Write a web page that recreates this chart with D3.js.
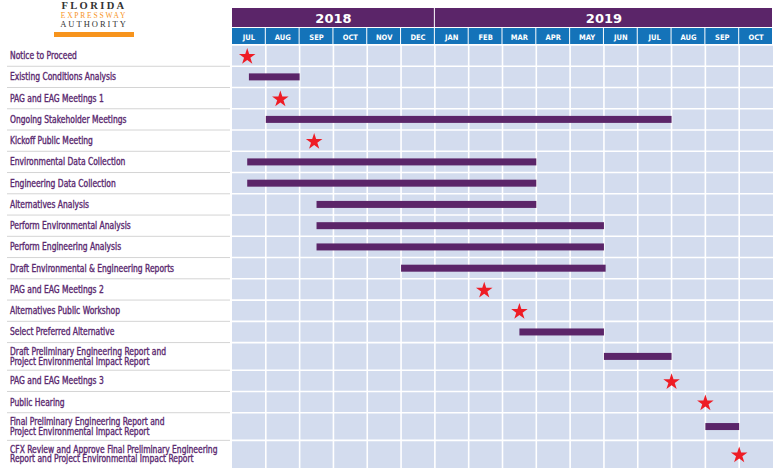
<!DOCTYPE html>
<meta charset="utf-8">
<script src="https://d3js.org/d3.v7.min.js"></script>
<style>
  body { margin: 0; background: #fff; }
  svg text { font-family: "DejaVu Sans Condensed", "DejaVu Sans", sans-serif; }
</style>
<div id="my_dataviz"></div>
<script>
// months shown on the timeline (Jul 2018 - Oct 2019)
var months = ["JUL","AUG","SEP","OCT","NOV","DEC","JAN","FEB","MAR","APR","MAY","JUN","JUL","AUG","SEP","OCT"];
var years = ["2018", "2019"];
var yearMonths = [6, 10];

// tasks, top to bottom ("\n" = second line of label)
var tasks = [
  "Notice to Proceed",
  "Existing Conditions Analysis",
  "PAG and EAG Meetings 1",
  "Ongoing Stakeholder Meetings",
  "Kickoff Public Meeting",
  "Environmental Data Collection",
  "Engineering Data Collection",
  "Alternatives Analysis",
  "Perform Environmental Analysis",
  "Perform Engineering Analysis",
  "Draft Environmental & Engineering Reports",
  "PAG and EAG Meetings 2",
  "Alternatives Public Workshop",
  "Select Preferred Alternative",
  "Draft Preliminary Engineering Report and\nProject Environmental Impact Report",
  "PAG and EAG Meetings 3",
  "Public Hearing",
  "Final Preliminary Engineering Report and\nProject Environmental Impact Report",
  "CFX Review and Approve Final Preliminary Engineering\nReport and Project Environmental Impact Report"
];

// bar start / end in months from 1 Jul 2018 (null = milestone row)
var barStart = [null, 0.5, null, 1, null, 0.45, 0.45, 2.5, 2.5, 2.5, 5, null, null, 8.5, 11, null, null, 14, null];
var barEnd   = [null, 2.0, null, 13, null, 9, 9, 9, 11, 11, 11.05, null, null, 11, 13, null, null, 15, null];

// milestone stars (months from 1 Jul 2018)
var starAt = [0.45, null, 1.43, null, 2.43, null, null, null, null, null, null, 7.46, 8.5, null, null, 13, 14, null, 15];

var W = 776, H = 469;
var svg = d3.select("#my_dataviz").append("svg")
  .attr("width", W).attr("height", H);

var x = d3.scaleLinear().domain([0, months.length]).range([232, 773]);

// row layout: two-line rows are taller
var gridTop = 45, gridBottom = 468;
var weights = tasks.map(function(t) { return t.indexOf("\n") >= 0 ? 1.3 : 1; });
var unit = (gridBottom - gridTop) / d3.sum(weights);
var rowY = [], acc = gridTop;
weights.forEach(function(w) { rowY.push(acc); acc += w * unit; });
var rowH = weights.map(function(w) { return w * unit; });

var purple = "#5b2569", blue = "#1473b9", cell = "#d3dcee", red = "#ee1c25", labelCol = "#5b2a70";

// logo
var logo = svg.append("g");
logo.append("text").attr("x", 94).attr("y", 8.5).attr("text-anchor", "middle")
  .style("font-family", "Liberation Serif, serif").style("font-size", "10.5px").style("font-weight", "bold")
  .style("letter-spacing", "2.4px").attr("fill", "#333").text("FLORIDA");
logo.append("text").attr("x", 94).attr("y", 17.5).attr("text-anchor", "middle")
  .style("font-family", "Liberation Serif, serif").style("font-size", "7.5px")
  .style("letter-spacing", "1.8px").attr("fill", "#f7941d").text("EXPRESSWAY");
logo.append("text").attr("x", 94).attr("y", 27).attr("text-anchor", "middle")
  .style("font-family", "Liberation Serif, serif").style("font-size", "8.5px")
  .style("letter-spacing", "2px").attr("fill", "#333").text("AUTHORITY");
logo.append("rect").attr("x", 54).attr("y", 32).attr("width", 80).attr("height", 5).attr("fill", "#f7941d");

// year header
var yStart = [0];
yearMonths.forEach(function(n, i) { yStart.push(yStart[i] + n); });
svg.selectAll(".year").data(years).enter().append("rect")
  .attr("x", function(d, i) { return x(yStart[i]); })
  .attr("y", 8).attr("width", function(d, i) { return x(yStart[i] + yearMonths[i]) - x(yStart[i]) - 1; })
  .attr("height", 19).attr("fill", purple);
svg.selectAll(".yearlab").data(years).enter().append("text")
  .attr("x", function(d, i) { return (x(yStart[i]) + x(yStart[i] + yearMonths[i])) / 2; })
  .attr("y", 22.5).attr("text-anchor", "middle").attr("fill", "#fff")
  .style("font-family", "DejaVu Sans, sans-serif")
  .style("font-size", "13px").style("font-weight", "bold").text(function(d) { return d; });

// month header
svg.selectAll(".month").data(months).enter().append("rect")
  .attr("x", function(d, i) { return x(i); }).attr("y", 28)
  .attr("width", function(d, i) { return x(i + 1) - x(i) - 1; }).attr("height", 16)
  .attr("fill", blue);
svg.selectAll(".monthlab").data(months).enter().append("text")
  .attr("x", function(d, i) { return (x(i) + x(i + 1)) / 2; }).attr("y", 39.5)
  .attr("text-anchor", "middle").attr("fill", "#fff")
  .style("font-size", "7.5px").style("font-weight", "bold").text(function(d) { return d; });

// grid cells
svg.append("rect").attr("x", x(0)).attr("y", gridTop)
  .attr("width", x(months.length) - x(0)).attr("height", gridBottom - gridTop).attr("fill", cell);
svg.selectAll(".vline").data(d3.range(1, months.length)).enter().append("line")
  .attr("x1", function(d) { return x(d); }).attr("x2", function(d) { return x(d); })
  .attr("y1", gridTop).attr("y2", gridBottom).attr("stroke", "#fff").attr("stroke-width", 1.6);
svg.selectAll(".hline").data(rowY).enter().append("line")
  .attr("x1", x(0)).attr("x2", x(months.length))
  .attr("y1", function(d) { return d; }).attr("y2", function(d) { return d; })
  .attr("stroke", "#fff").attr("stroke-width", 1.6);

// label separators
svg.selectAll(".sep").data(rowY.slice(1)).enter().append("line")
  .attr("x1", 7).attr("x2", 230)
  .attr("y1", function(d) { return d; }).attr("y2", function(d) { return d; })
  .attr("stroke", "#d4d4d4").attr("stroke-width", 1);

// labels (narrowed horizontally to mimic the condensed face)
var labelG = svg.append("g").attr("transform", "translate(10,0) scale(0.86,1)");
var labels = labelG.selectAll(".label").data(tasks).enter().append("text")
  .attr("fill", labelCol).attr("stroke", labelCol).attr("stroke-width", 0.35)
  .style("font-size", "9.8px");
labels.each(function(d, i) {
  var parts = d.split("\n");
  var cy = rowY[i] + rowH[i] / 2;
  var t = d3.select(this);
  parts.forEach(function(p, j) {
    t.append("tspan").attr("x", 0)
      .attr("y", cy + 3.5 + (j - (parts.length - 1) / 2) * 9.5)
      .text(p);
  });
});

// bars
svg.selectAll(".bar").data(tasks).enter()
  .filter(function(d, i) { return barStart[i] !== null; })
  .append("rect")
  .attr("x", function(d) { var i = tasks.indexOf(d); return x(barStart[i]); })
  .attr("width", function(d) { var i = tasks.indexOf(d); return x(barEnd[i]) - x(barStart[i]); })
  .attr("y", function(d) { var i = tasks.indexOf(d); return rowY[i] + rowH[i] / 2 - 3.5; })
  .attr("height", 7).attr("fill", purple);

// milestones
var star = d3.symbol().type(d3.symbolStar).size(85);
svg.selectAll(".star").data(tasks).enter()
  .filter(function(d, i) { return starAt[i] !== null; })
  .append("path").attr("d", star)
  .attr("transform", function(d) {
    var i = tasks.indexOf(d);
    return "translate(" + x(starAt[i]) + "," + (rowY[i] + rowH[i] / 2 + 1) + ")";
  })
  .attr("fill", red);
</script>
